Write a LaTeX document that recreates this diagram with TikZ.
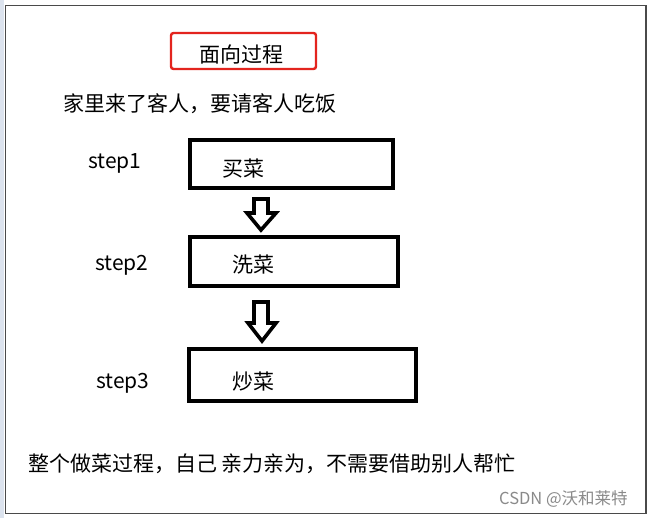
\documentclass[tikz,border=0pt]{standalone}
\usepackage{fontspec}
\setmainfont{Noto Sans CJK SC}
\definecolor{framegray}{HTML}{4A4A4A}
\definecolor{stripblue}{HTML}{DCE3EE}
\definecolor{boxred}{HTML}{E3241E}
\definecolor{wmgray}{HTML}{8A8A8A}
\begin{document}
\begin{tikzpicture}[x=1pt,y=-1pt,
  txt/.style={inner sep=0pt, font=\fontsize{21}{24}\selectfont},
  stepbox/.style={draw, line width=3.6pt},
  hollow/.style={draw, line width=3.6pt, line join=miter}]
\useasboundingbox (0,0) rectangle (650,518);
\fill[white] (0,0) rectangle (650,518);
\fill[stripblue] (0,0) rectangle (4,518);
\draw[framegray, line width=1.3pt] (5.5,5.5) rectangle (646,513.5);
% title
\draw[boxred, line width=2.4pt, rounded corners=2.5pt] (171,33) rectangle (316,69);
\node[txt] (title) at (241,55) {面向过程};
\node[txt, anchor=west] (intro) at (63,104) {家里来了客人，要请客人吃饭};
% boxes
\draw[stepbox] (190,140) rectangle (393,188);
\node[txt, anchor=west] (t1) at (222,169) {买菜};
\node[txt, anchor=west] (s1) at (88,163) {step1};
\draw[stepbox] (190,237) rectangle (398,286);
\node[txt, anchor=west] (t2) at (232,265) {洗菜};
\node[txt, anchor=west] (s2) at (95,265) {step2};
\draw[stepbox] (189,349) rectangle (416,401);
\node[txt, anchor=west] (t3) at (232,382) {炒菜};
\node[txt, anchor=west] (s3) at (96,383) {step3};
% hollow arrows
\draw[hollow] (254,199) -- (268,199) -- (268,213) -- (276,213) -- (261,230) -- (247,213) -- (254,213) -- cycle;
\draw[hollow] (254,302) -- (268,302) -- (268,323) -- (276,323) -- (262,341) -- (248,323) -- (254,323) -- cycle;
% bottom text
\node[txt, anchor=west] (concl) at (28,464) {整个做菜过程，自己 亲力亲为，不需要借助别人帮忙};
\node[inner sep=0pt, anchor=west, text=wmgray, font=\fontsize{16.5}{18}\selectfont] (wm) at (499,499) {CSDN @沃和莱特};
\end{tikzpicture}
\end{document}
